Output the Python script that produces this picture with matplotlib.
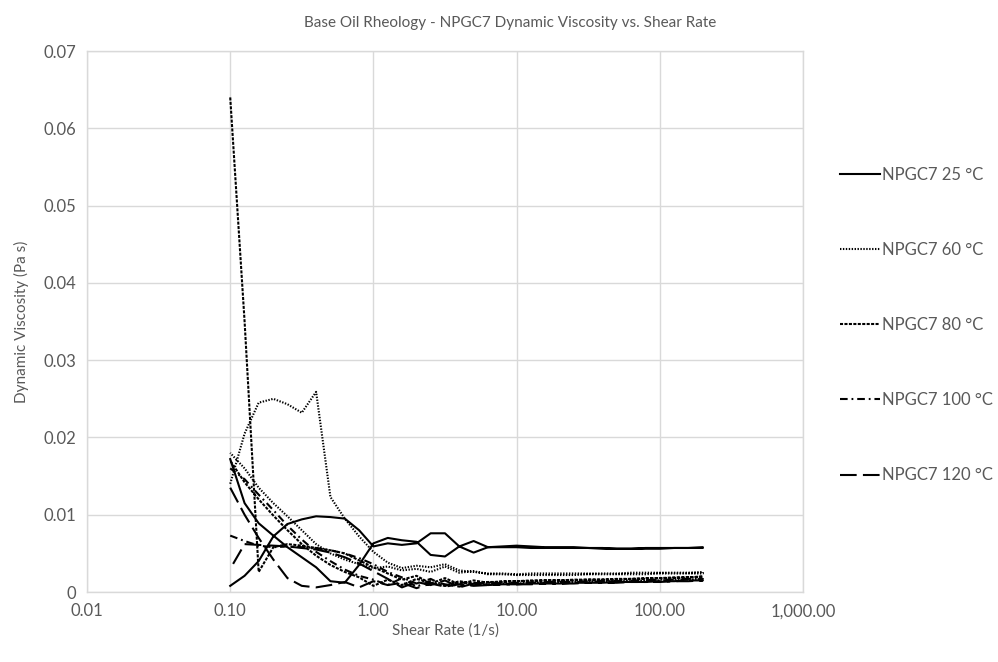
import matplotlib
matplotlib.use('Agg')
import matplotlib.pyplot as plt
from matplotlib.ticker import FixedLocator, NullLocator

# shear rates of one sweep (1/s), ten points per decade
shear = [0.1, 0.126, 0.158, 0.2, 0.251, 0.316, 0.398, 0.501, 0.631, 0.794,
         1.0, 1.26, 1.58, 2.0, 2.51, 3.16, 3.98, 5.01, 6.31, 7.94,
         10.0, 12.6, 15.8, 20.0, 25.1, 31.6, 39.8, 50.1, 63.1, 79.4,
         100.0, 126.0, 158.0, 200.0]

# viscosity (Pa s), up sweep and down sweep, both listed in ascending shear order
visc_25_up = [0.0008, 0.0021, 0.0040, 0.0072, 0.0088, 0.0094, 0.0098, 0.0097, 0.0095, 0.0080,
              0.0059, 0.0063, 0.0061, 0.0063, 0.0076, 0.0076, 0.0059, 0.0066, 0.0058, 0.0058,
              0.0058, 0.0057, 0.0057, 0.0058, 0.0057, 0.0057, 0.0056, 0.0056, 0.0056, 0.0057,
              0.0057, 0.0057, 0.0057, 0.0057]
visc_25_down = [0.0172, 0.0115, 0.0089, 0.0073, 0.0058, 0.0045, 0.0032, 0.0014, 0.0012, 0.0035,
                0.0063, 0.0070, 0.0067, 0.0065, 0.0048, 0.0046, 0.0059, 0.0051, 0.0058, 0.0059,
                0.0060, 0.0059, 0.0058, 0.0057, 0.0058, 0.0057, 0.0057, 0.0056, 0.0056, 0.0056,
                0.0056, 0.0057, 0.0057, 0.0058]
visc_60_up = [0.0140, 0.0205, 0.0245, 0.0250, 0.0243, 0.0232, 0.0259, 0.0123, 0.0095, 0.0072,
              0.0052, 0.0038, 0.0031, 0.0034, 0.0032, 0.0036, 0.0028, 0.0026, 0.0024, 0.0024,
              0.0023, 0.0024, 0.0024, 0.0024, 0.0024, 0.0024, 0.0024, 0.0024, 0.0025, 0.0025,
              0.0025, 0.0025, 0.0025, 0.0026]
visc_60_down = [0.0180, 0.0160, 0.0135, 0.0115, 0.0098, 0.0080, 0.0062, 0.0050, 0.0042, 0.0036,
                0.0031, 0.0033, 0.0028, 0.0030, 0.0026, 0.0033, 0.0025, 0.0027, 0.0023, 0.0023,
                0.0022, 0.0022, 0.0022, 0.0022, 0.0022, 0.0023, 0.0023, 0.0023, 0.0023, 0.0023,
                0.0024, 0.0024, 0.0024, 0.0024]
visc_80_up = [0.0640, 0.0350, 0.0026, 0.0058, 0.0062, 0.0060, 0.0057, 0.0054, 0.0050, 0.0041,
              0.0032, 0.0024, 0.0016, 0.0021, 0.0011, 0.0018, 0.0010, 0.0015, 0.0012, 0.0014,
              0.0014, 0.0015, 0.0015, 0.0015, 0.0016, 0.0016, 0.0016, 0.0017, 0.0017, 0.0018,
              0.0018, 0.0019, 0.0019, 0.0020]
visc_80_down = [0.0170, 0.0142, 0.0120, 0.0099, 0.0080, 0.0062, 0.0047, 0.0035, 0.0026, 0.0019,
                0.0008, 0.0016, 0.0009, 0.0017, 0.0012, 0.0008, 0.0014, 0.0011, 0.0013, 0.0013,
                0.0014, 0.0014, 0.0015, 0.0015, 0.0015, 0.0016, 0.0016, 0.0016, 0.0017, 0.0017,
                0.0018, 0.0018, 0.0019, 0.0020]
visc_100_up = [0.0073, 0.0066, 0.0060, 0.0058, 0.0059, 0.0058, 0.0057, 0.0054, 0.0050, 0.0044,
               0.0036, 0.0026, 0.0019, 0.0011, 0.0017, 0.0008, 0.0013, 0.0010, 0.0012, 0.0011,
               0.0012, 0.0012, 0.0013, 0.0013, 0.0013, 0.0014, 0.0014, 0.0014, 0.0015, 0.0015,
               0.0016, 0.0016, 0.0017, 0.0017]
visc_100_down = [0.0160, 0.0146, 0.0126, 0.0106, 0.0086, 0.0068, 0.0052, 0.0040, 0.0029, 0.0021,
                 0.0016, 0.0009, 0.0018, 0.0007, 0.0014, 0.0010, 0.0007, 0.0012, 0.0010, 0.0011,
                 0.0011, 0.0012, 0.0012, 0.0013, 0.0013, 0.0013, 0.0014, 0.0014, 0.0014, 0.0015,
                 0.0015, 0.0016, 0.0016, 0.0017]
visc_120_up = [0.0135, 0.0100, 0.0070, 0.0042, 0.0018, 0.0008, 0.0006, 0.0009, 0.0013, 0.0006,
               0.0014, 0.0009, 0.0012, 0.0005, 0.0011, 0.0007, 0.0010, 0.0008, 0.0009, 0.0010,
               0.0010, 0.0010, 0.0011, 0.0011, 0.0011, 0.0012, 0.0012, 0.0012, 0.0013, 0.0013,
               0.0013, 0.0014, 0.0014, 0.0015]
visc_120_down = [0.0030, 0.0062, 0.0061, 0.0060, 0.0059, 0.0057, 0.0055, 0.0051, 0.0045, 0.0037,
                 0.0027, 0.0017, 0.0006, 0.0013, 0.0009, 0.0015, 0.0006, 0.0011, 0.0009, 0.0010,
                 0.0010, 0.0011, 0.0011, 0.0011, 0.0012, 0.0012, 0.0012, 0.0013, 0.0013, 0.0013,
                 0.0014, 0.0014, 0.0015, 0.0015]

labels = ['NPGC7 25 °C', 'NPGC7 60 °C', 'NPGC7 80 °C', 'NPGC7 100 °C', 'NPGC7 120 °C']
x_ticks = [0.01, 0.1, 1, 10, 100, 1000]
x_tick_labels = ['0.01', '0.10', '1.00', '10.00', '100.00', '1,000.00']
y_ticks = [0, 0.01, 0.02, 0.03, 0.04, 0.05, 0.06, 0.07]
y_tick_labels = ['0', '0.01', '0.02', '0.03', '0.04', '0.05', '0.06', '0.07']

series = [(visc_25_up, visc_25_down), (visc_60_up, visc_60_down),
          (visc_80_up, visc_80_down), (visc_100_up, visc_100_down),
          (visc_120_up, visc_120_down)]
styles = ['-', (0, (1.0, 1.1)), (0, (2.2, 1.0)), (0, (5.5, 2.8, 1.3, 2.8)), (0, (12, 4.5))]

text_color = '#595959'
grid_color = '#d9d9d9'
plt.rcParams['font.family'] = ['Lato', 'DejaVu Sans']
plt.rcParams['lines.scale_dashes'] = False

fig = plt.figure(figsize=(9.98, 6.62), dpi=100)
ax = fig.add_axes([0.0872, 0.1057, 0.7174, 0.8172])

for (up, down), ls, label in zip(series, styles, labels):
    xs = shear + shear[::-1]
    ys = up + down[::-1]
    ax.plot(xs, ys, color='black', lw=1.5, ls=ls, label=label, solid_joinstyle='round')

ax.set_xscale('log')
ax.set_xlim(0.01, 1000)
ax.set_ylim(0, 0.07)
ax.xaxis.set_major_locator(FixedLocator(x_ticks))
ax.xaxis.set_minor_locator(NullLocator())
ax.set_xticklabels(x_tick_labels)
ax.set_yticks(y_ticks)
ax.set_yticklabels(y_tick_labels)
ax.tick_params(length=0, labelsize=12, colors=text_color, pad=8)
ax.grid(True, color=grid_color, lw=1)
ax.set_axisbelow(True)
for sp in ax.spines.values():
    sp.set_color(grid_color)
    sp.set_linewidth(1)

ax.set_xlabel('Shear Rate (1/s)', fontsize=11, color=text_color, labelpad=3)
ax.set_ylabel('Dynamic Viscosity (Pa s)', fontsize=11, color=text_color, labelpad=10)
fig.text(510 / 998, 1 - 23 / 662, 'Base Oil Rheology - NPGC7 Dynamic Viscosity vs. Shear Rate',
         ha='center', va='center', fontsize=11, color=text_color)

leg = ax.legend(loc='center left', bbox_to_anchor=(840 / 998, 1 - 325 / 662),
                bbox_transform=fig.transFigure, frameon=False, fontsize=12,
                handlelength=2.4, handletextpad=0.15, labelspacing=3.55,
                borderpad=0, borderaxespad=0)
for t in leg.get_texts():
    t.set_color(text_color)

fig.savefig('out.png', dpi=100)
